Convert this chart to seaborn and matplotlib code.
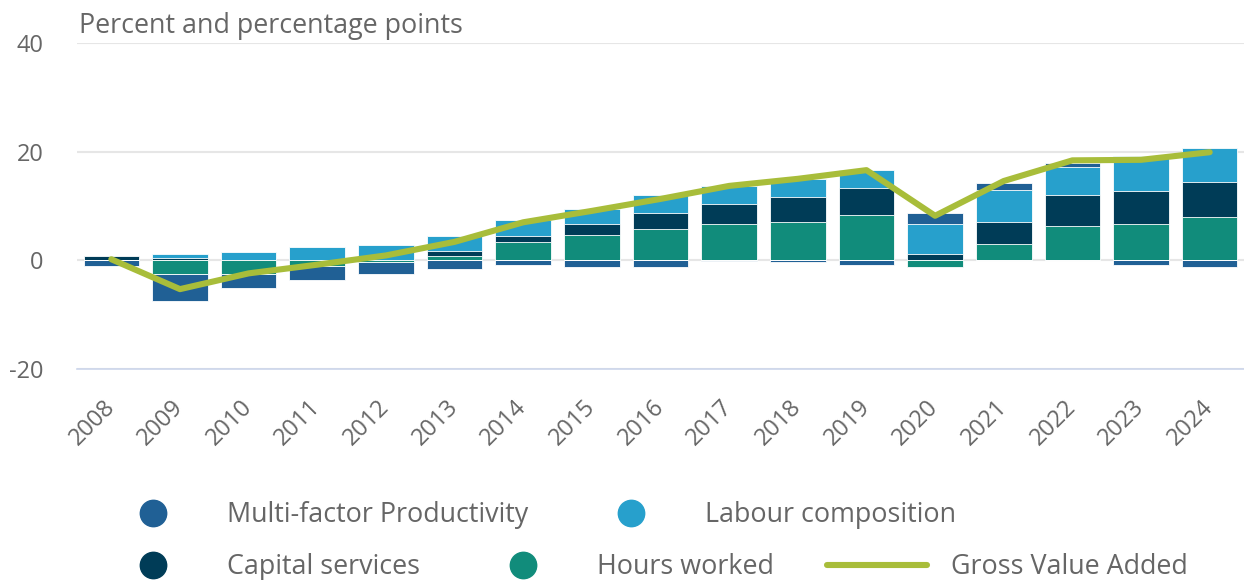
import numpy as np
import pandas as pd
import matplotlib.pyplot as plt
import seaborn as sns
from matplotlib.lines import Line2D

years = [str(y) for y in range(2008, 2025)]

# contributions, percentage points
mfp = [-1.1, -4.9, -2.5, -2.7, -2.2, -1.6, -0.8, -1.2, -1.2, -0.1, -0.3, -0.8, 2.1, 1.2, 0.8, -0.8, -1.2]
labour = [0.0, 0.8, 1.6, 2.5, 2.9, 2.75, 2.95, 2.8, 3.3, 3.3, 3.4, 3.3, 5.4, 5.85, 5.1, 6.4, 6.3]
capital = [0.8, 0.4, 0.0, 0.0, 0.0, 0.9, 1.2, 2.0, 2.9, 3.7, 4.5, 5.0, 1.2, 4.1, 5.7, 6.2, 6.5]
hours = [0.0, -2.5, -2.5, -1.0, -0.3, 0.85, 3.3, 4.6, 5.8, 6.6, 7.1, 8.3, -1.2, 3.0, 6.3, 6.6, 7.9]
# gross value added, percent
gva = [0.2, -5.3, -2.4, -0.8, 0.9, 3.4, 7.0, 9.1, 11.3, 13.7, 15.0, 16.6, 8.2, 14.6, 18.4, 18.5, 19.9]

colours = {
    "Multi-factor Productivity": "#206095",
    "Labour composition": "#27a0cc",
    "Capital services": "#003c57",
    "Hours worked": "#118c7b",
}
gva_colour = "#a8bd3a"
text_col = "#666666"

df = pd.DataFrame({
    "year": years,
    "Hours worked": hours,
    "Capital services": capital,
    "Labour composition": labour,
    "Multi-factor Productivity": mfp,
})
stack_cols = ["Hours worked", "Capital services", "Labour composition", "Multi-factor Productivity"]

# positive parts stack up from zero, negative parts stack down
pos = df[stack_cols].clip(lower=0).cumsum(axis=1)
neg = df[stack_cols].clip(upper=0).cumsum(axis=1)

sns.set_style("white")
plt.rcParams['font.family'] = ['Open Sans', 'DejaVu Sans']
plt.rcParams['axes.unicode_minus'] = False

W, H = 1244, 580
fig = plt.figure(figsize=(W / 100, H / 100), dpi=100)
ax = fig.add_axes([77 / W, (H - 369) / H, (W - 77) / W, 326 / H])

for col in reversed(stack_cols):
    for stack in (pos, neg):
        sns.barplot(x=df["year"], y=stack[col], order=years, color=colours[col],
                    saturation=1, errorbar=None, width=0.81,
                    edgecolor="white", linewidth=0.6, ax=ax)

sns.lineplot(x=np.arange(len(years)), y=gva, color=gva_colour, lw=4.4,
             solid_joinstyle="round", ax=ax)

ax.set_ylim(-20, 40)
ax.set_yticks([-20, 0, 20, 40])
ax.set_xlim(-0.5, -0.5 + (W - 77) / 69.2)
ax.set_xlabel("")
ax.set_ylabel("")

for s in ["top", "right", "left"]:
    ax.spines[s].set_visible(False)
ax.spines["bottom"].set_color("#ccd6eb")
ax.spines["bottom"].set_linewidth(1.2)
ax.spines["bottom"].set_zorder(5)

ax.yaxis.grid(True, color="#e6e6e6", lw=1.5)
ax.xaxis.grid(False)
ax.set_axisbelow(True)

ax.set_xticks(range(len(years)))
ax.set_xticklabels(years, rotation=45, ha="right", va="center", rotation_mode="anchor")
ax.set_xticks(np.arange(-0.5, len(years)), minor=True)
ax.tick_params(axis="x", which="major", length=0, pad=25, labelsize=17, labelcolor=text_col)
ax.tick_params(axis="x", which="minor", length=16, width=1.2, color="#ccd6eb", direction="out")
ax.tick_params(axis="y", length=0, pad=24, labelsize=17, labelcolor=text_col)

fig.text(79 / W, 1 - 33 / H, "Percent and percentage points", fontsize=19.4,
         color=text_col, va="baseline", ha="left")

def dot(c):
    return Line2D([], [], marker="o", linestyle="none", markersize=19,
                  markerfacecolor=c, markeredgecolor=c)

leg_kw = dict(frameon=False, fontsize=19.4, labelcolor=text_col, loc="center left",
              handlelength=3.7, handletextpad=0.9, columnspacing=1.97,
              borderpad=0, borderaxespad=0)

row1 = [dot(colours["Multi-factor Productivity"]), dot(colours["Labour composition"])]
fig.legend(row1, ["Multi-factor Productivity", "Labour composition"], ncol=2,
           bbox_to_anchor=(103 / W, 1 - 515 / H), **leg_kw)

row2 = [dot(colours["Capital services"]), dot(colours["Hours worked"]),
        Line2D([], [], color=gva_colour, lw=4.4)]
fig.legend(row2, ["Capital services", "Hours worked", "Gross Value Added"], ncol=3,
           bbox_to_anchor=(103 / W, 1 - 567 / H), **leg_kw)

fig.savefig("out.png", dpi=100)
